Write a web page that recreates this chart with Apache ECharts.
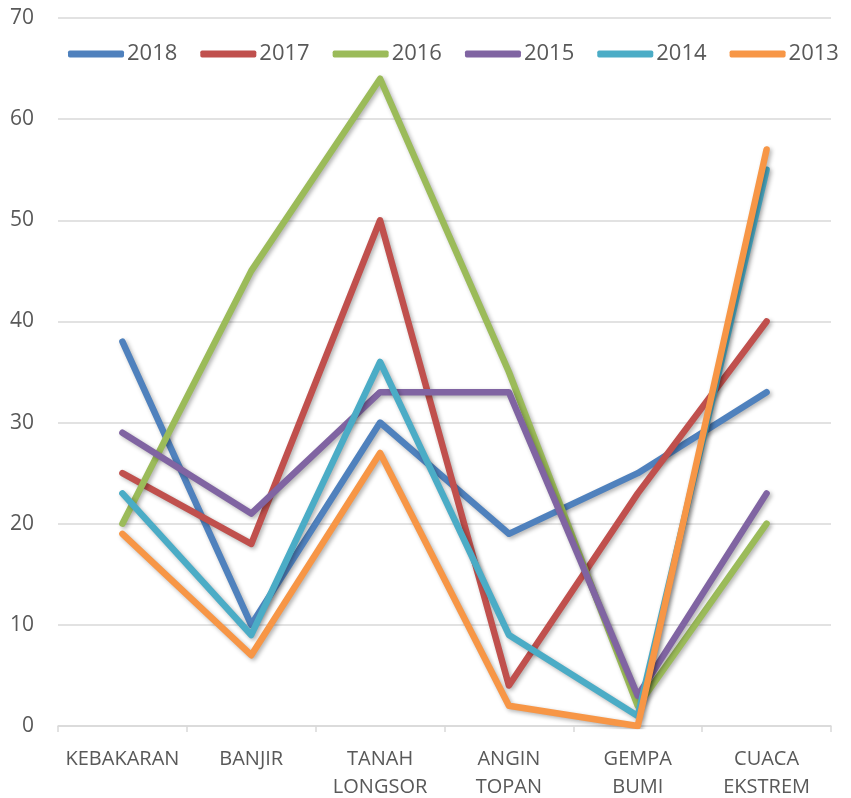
<!DOCTYPE html>
<html>
<head>
<meta charset="utf-8">
<script src="https://cdn.jsdelivr.net/npm/echarts@6/dist/echarts.min.js"></script>
<style>
  html, body { margin: 0; padding: 0; background: #fff; }
  #chart { width: 851px; height: 798px; }
</style>
</head>
<body>
<div id="chart"></div>
<script>
// Disaster categories on the x axis
const categories = ['KEBAKARAN', 'BANJIR', 'TANAH\nLONGSOR', 'ANGIN\nTOPAN', 'GEMPA\nBUMI', 'CUACA\nEKSTREM'];

// Event counts per year
const y2018 = [38, 10, 30, 19, 25, 33];
const y2017 = [25, 18, 50, 4, 23, 40];
const y2016 = [20, 45, 64, 35, 2, 20];
const y2015 = [29, 21, 33, 33, 3, 23];
const y2014 = [23, 9, 36, 9, 1, 55];
const y2013 = [19, 7, 27, 2, 0, 57];

const yearNames = ['2018', '2017', '2016', '2015', '2014', '2013'];
const yearData = [y2018, y2017, y2016, y2015, y2014, y2013];
const yearColors = ['#4f81bd', '#c0504d', '#9bbb59', '#8064a2', '#4bacc6', '#f79646'];

const fontFamily = '"Open Sans", "Noto Sans", sans-serif';

const series = yearNames.map((name, i) => ({
  name: name,
  type: 'line',
  data: yearData[i],
  symbol: 'none',
  color: yearColors[i],
  lineStyle: {
    width: 6.5,
    color: yearColors[i],
    cap: 'round',
    join: 'round',
    shadowColor: 'rgba(0,0,0,0.3)',
    shadowBlur: 4,
    shadowOffsetX: 2,
    shadowOffsetY: 2
  },
  emphasis: { disabled: true },
  animation: false
}));

const chart = echarts.init(document.getElementById('chart'));
chart.setOption({
  backgroundColor: '#ffffff',
  animation: false,
  grid: { left: 58, right: 20, top: 18, bottom: 72, outerBoundsMode: 'none' },
  legend: {
    data: yearNames,
    left: 68,
    top: 43,
    width: 783,
    padding: 0,
    icon: 'roundRect',
    itemWidth: 56,
    itemHeight: 7,
    itemGap: 23,
    textStyle: { color: '#595959', fontSize: 22, fontFamily: fontFamily, padding: [0, 0, 0, -2] }
  },
  xAxis: {
    type: 'category',
    data: categories,
    boundaryGap: true,
    axisLine: { lineStyle: { color: '#d9d9d9', width: 1.5 } },
    axisTick: { show: true, length: 6, lineStyle: { color: '#d9d9d9', width: 1.5 } },
    axisLabel: {
      color: '#595959',
      fontSize: 20,
      fontFamily: fontFamily,
      lineHeight: 28,
      margin: 19,
      interval: 0
    }
  },
  yAxis: {
    type: 'value',
    min: 0,
    max: 70,
    interval: 10,
    axisLine: { show: false },
    axisTick: { show: false },
    splitLine: { lineStyle: { color: '#d9d9d9', width: 1.5 } },
    axisLabel: { color: '#595959', fontSize: 21, fontFamily: fontFamily, margin: 24 }
  },
  series: series
});
</script>
</body>
</html>
